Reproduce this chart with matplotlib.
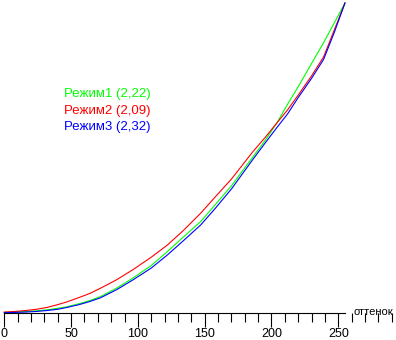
import numpy as np
import matplotlib
matplotlib.use("Agg")
import matplotlib.pyplot as plt
from matplotlib.ticker import MultipleLocator

# уровень (0..255) и относительная яркость
levels = [0, 8, 16, 24, 32, 40, 47, 56, 64, 72, 84, 96, 110, 122, 134, 147,
          158, 170, 186, 195, 204, 212, 220, 230, 239, 247, 255]
mode1 = [0.002, 0.003, 0.005, 0.007, 0.010, 0.015, 0.020, 0.030, 0.040, 0.053, 0.080, 0.112, 0.153, 0.198,
         0.245, 0.295, 0.350, 0.410, 0.503, 0.555, 0.613, 0.673, 0.730, 0.805, 0.872, 0.936, 1.0]
mode2 = [0.003, 0.005, 0.008, 0.012, 0.018, 0.027, 0.036, 0.050, 0.063, 0.080, 0.107, 0.139, 0.180, 0.219,
         0.266, 0.322, 0.375, 0.432, 0.520, 0.565, 0.613, 0.655, 0.703, 0.765, 0.826, 0.913, 1.0]
mode3 = [0.001, 0.002, 0.003, 0.005, 0.008, 0.012, 0.018, 0.027, 0.037, 0.049, 0.075, 0.106, 0.145, 0.187,
         0.233, 0.284, 0.338, 0.400, 0.495, 0.547, 0.598, 0.642, 0.695, 0.757, 0.818, 0.905, 1.0]

labels = ["Режим1 (2,22)", "Режим2 (2,09)", "Режим3 (2,32)"]
colors = ["#00ff00", "#ff0000", "#0000ff"]

plt.rcParams["font.family"] = ["Liberation Sans", "DejaVu Sans"]

fig = plt.figure(figsize=(3.96, 3.40), dpi=100)
ax = fig.add_axes([0, 0, 1, 1])

for ys, c in zip([mode1, mode2, mode3], colors):
    ax.plot(levels, ys, color=c, linewidth=0.8)

ax.set_xlim(-3.22, 293.2)
ax.set_ylim(-0.0871, 1.0097)

for s in ["top", "right", "left"]:
    ax.spines[s].set_visible(False)
ax.spines["bottom"].set_position(("data", 0))
ax.spines["bottom"].set_bounds(0, 255)
ax.spines["bottom"].set_linewidth(0.8)
ax.set_yticks([])
ax.xaxis.set_major_locator(MultipleLocator(50))
ax.xaxis.set_minor_locator(MultipleLocator(10))
ax.set_xticks(range(0, 251, 50))
ax.tick_params(axis="x", which="major", length=10, width=0.8, labelsize=9, pad=1)
ax.tick_params(axis="x", which="minor", length=6.5, width=0.8)

ax.text(261.5, 0.003, "оттенок", fontsize=8, ha="left", va="center")

for i, (t, c) in enumerate(zip(labels, colors)):
    ax.text(44.5, 0.705 - i * 0.052, t, color=c, fontsize=9.5, ha="left", va="center")

fig.savefig("out.png", dpi=100)
